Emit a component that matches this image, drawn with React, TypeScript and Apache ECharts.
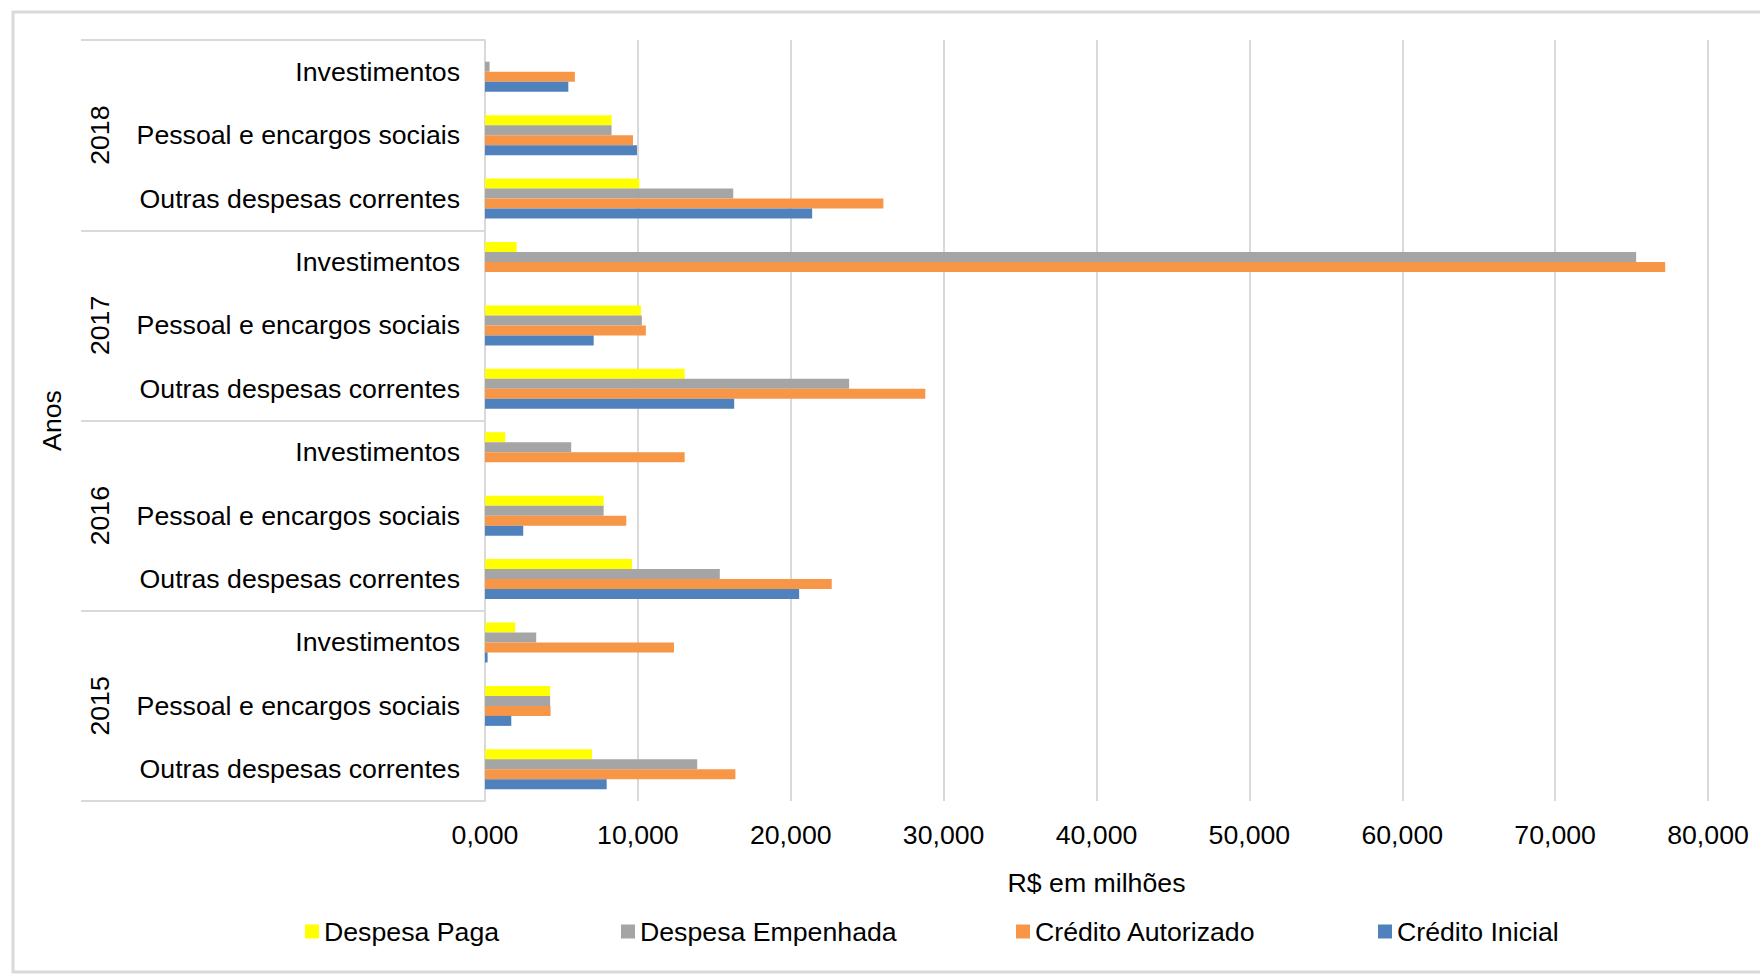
import React, { useEffect, useRef } from "react";
import * as echarts from "echarts";

// Categories listed bottom-to-top (ECharts category y axis starts at the bottom)
const categories = [
  "Outras despesas correntes", "Pessoal e encargos sociais", "Investimentos", // 2015
  "Outras despesas correntes", "Pessoal e encargos sociais", "Investimentos", // 2016
  "Outras despesas correntes", "Pessoal e encargos sociais", "Investimentos", // 2017
  "Outras despesas correntes", "Pessoal e encargos sociais", "Investimentos", // 2018
];
const years = ["2015", "2016", "2017", "2018"];

const despesaPaga = [7.0, 4.26, 1.98, 9.62, 7.76, 1.32, 13.06, 10.2, 2.07, 10.09, 8.28, 0];
const despesaEmpenhada = [13.88, 4.26, 3.35, 15.36, 7.76, 5.64, 23.82, 10.26, 75.3, 16.24, 8.28, 0.3];
const creditoAutorizado = [16.38, 4.29, 12.36, 22.68, 9.24, 13.06, 28.8, 10.52, 77.2, 26.06, 9.68, 5.88];
const creditoInicial = [7.96, 1.72, 0.17, 20.55, 2.5, 0, 16.3, 7.11, 0, 21.4, 9.94, 5.45];

const seriesNames = ["Despesa Paga", "Despesa Empenhada", "Crédito Autorizado", "Crédito Inicial"];
const seriesColors = ["#FFFF00", "#A5A5A5", "#F79646", "#4F81BD"];
const seriesData = [despesaPaga, despesaEmpenhada, creditoAutorizado, creditoInicial];
const legendLefts = [305, 621, 1016, 1378];

const FONT = "'Liberation Sans', Arial, Helvetica, sans-serif";
const FS = 26.7;

export default function App() {
  const ref = useRef<HTMLDivElement>(null);
  useEffect(() => {
    document.body.style.margin = "0";
    const chart = echarts.init(ref.current!, null, { renderer: "svg" });
    const option: any = {
      animation: false,
      backgroundColor: "#ffffff",
      textStyle: { fontFamily: FONT, color: "#000" },
      graphic: [
        {
          type: "rect",
          shape: { x: 13, y: 12, width: 1800, height: 960 },
          style: { fill: "none", stroke: "#d9d9d9", lineWidth: 3 },
          silent: true,
          z: -10,
        },
      ],
      legend: seriesNames.map((n, i) => ({
        data: [n],
        left: legendLefts[i],
        top: 918,
        padding: 0,
        icon: "rect",
        itemWidth: 14,
        itemHeight: 14,
        textStyle: { fontSize: FS, color: "#000", fontFamily: FONT },
      })),
      grid: { left: 485, right: 52, top: 40, bottom: 173, containLabel: false },
      xAxis: {
        type: "value",
        min: 0,
        max: 80,
        interval: 10,
        axisLine: { show: false },
        axisTick: { show: false },
        splitLine: { show: true, lineStyle: { color: "#d9d9d9", width: 2 } },
        axisLabel: {
          fontSize: FS,
          color: "#000",
          margin: 20,
          formatter: (v: number) => v.toFixed(3).replace(".", ","),
        },
        name: "R$ em milhões",
        nameLocation: "middle",
        nameGap: 68,
        nameTextStyle: { fontSize: FS, color: "#000" },
      },
      yAxis: [
        {
          type: "category",
          data: categories,
          position: "left",
          axisLine: { show: true, lineStyle: { color: "#d9d9d9", width: 2 } },
          axisTick: { show: false },
          axisLabel: { fontSize: FS, color: "#000", margin: 25 },
        },
        {
          type: "category",
          data: years,
          position: "left",
          offset: 0,
          axisLine: { show: false },
          axisTick: { show: true, length: 404, lineStyle: { color: "#d9d9d9", width: 2 } },
          axisLabel: { fontSize: FS, color: "#000", rotate: 90, margin: 372 },
          name: "Anos",
          nameLocation: "middle",
          nameRotate: 90,
          nameGap: 420,
          nameTextStyle: { fontSize: FS, color: "#000" },
        },
      ],
      series: seriesNames.map((n, i) => ({
        name: n,
        type: "bar",
        yAxisIndex: 0,
        data: seriesData[i],
        barWidth: 10,
        barGap: "0%",
        itemStyle: { color: seriesColors[i] },
      })),
    };
    chart.setOption(option);
    return () => chart.dispose();
  }, []);
  return <div ref={ref} style={{ width: 1760, height: 974 }} />;
}
